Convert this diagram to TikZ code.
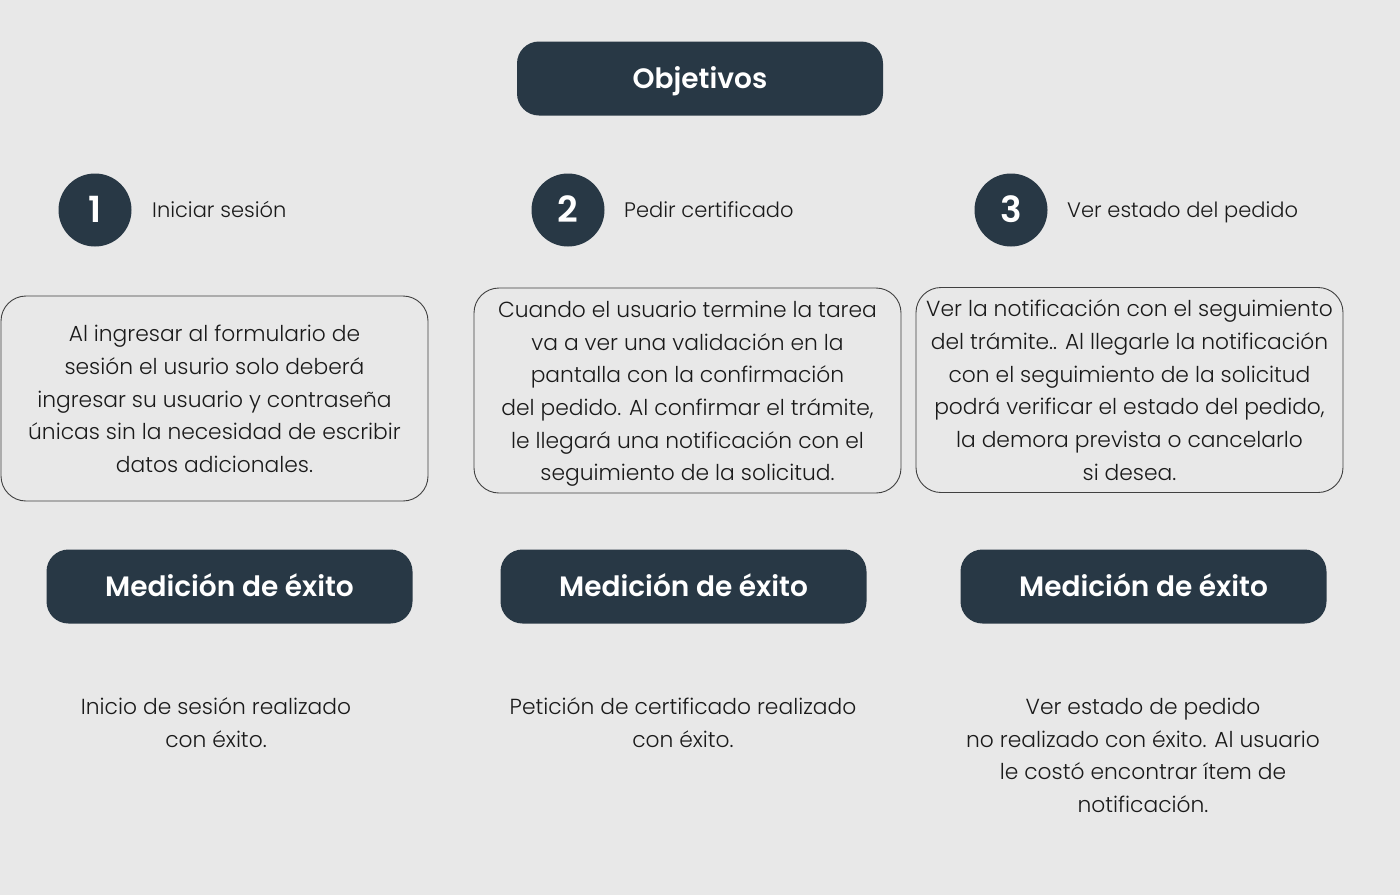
\documentclass[tikz,border=0pt]{standalone}
\usepackage{fontspec}
\setmainfont{Poppins}[UprightFont=* Light, BoldFont=* SemiBold]
\definecolor{bg}{HTML}{E8E8E8}
\definecolor{navy}{HTML}{283845}
\definecolor{ink}{HTML}{1A1A1A}
\definecolor{edge}{HTML}{404040}
\newcommand\tstrut{\rule{0pt}{27pt}}
\tikzset{
  darkbox/.style={fill=navy, rounded corners=22pt, minimum width=366pt, minimum height=74pt, text=white, inner sep=0pt, text height=19.6pt, text depth=0pt},
  numcirc/.style={circle, fill=navy, minimum size=73pt, inner sep=0pt, text=white, font=\fontsize{36}{36}\selectfont\bfseries, text height=25pt, text depth=0pt},
  steplabel/.style={anchor=base west, text=ink, font=\fontsize{21}{26}\selectfont, inner sep=0pt},
  outlinebox/.style={draw=edge, line width=0.9pt, rounded corners=25pt, minimum width=427pt, minimum height=205pt, text=ink, align=center, inner sep=0pt, font=\fontsize{21.8}{32.7}\selectfont},
  plaintext/.style={text=ink, align=center, inner sep=0pt, font=\fontsize{21.8}{32.7}\selectfont}
}
\begin{document}
\begin{tikzpicture}[x=1pt, y=-1pt]
\fill[bg] (0,0) rectangle (1400,895);
\useasboundingbox (0,0) rectangle (1400,895);
\node[darkbox, font=\fontsize{28}{28}\selectfont\bfseries] (obj) at (700,78.5) {Objetivos};

\node[numcirc] (c1) at (95,210) {1};
\node[numcirc] (c2) at (568,210) {2};
\node[numcirc] (c3) at (1011,210) {3};
\node[steplabel] (l1) at (152,217) {Iniciar sesión};
\node[steplabel] (l2) at (624,217) {Pedir certificado};
\node[steplabel] (l3) at (1067,217) {Ver estado del pedido};

\node[outlinebox] (b1) at (214.5,398.5) {\tstrut Al ingresar al formulario de\\sesión el usurio solo deberá\\ingresar su usuario y contraseña\\únicas sin la necesidad de escribir\\datos adicionales.\strut};
\node[outlinebox] (b2) at (687.5,390.5) {\tstrut Cuando el usuario termine la tarea\\va a ver una validación en la\\pantalla con la confirmación\\del pedido. Al confirmar el trámite,\\le llegará una notificación con el\\seguimiento de la solicitud.\strut};
\node[outlinebox] (b3) at (1129.5,390) {\tstrut Ver la notificación con el seguimiento\\del trámite.. Al llegarle la notificación\\con el seguimiento de la solicitud\\podrá verificar el estado del pedido,\\la demora prevista o cancelarlo\\si desea.\strut};

\node[darkbox, font=\fontsize{28}{28}\selectfont\bfseries] (m1) at (229.5,586.5) {Medición de éxito};
\node[darkbox, font=\fontsize{28}{28}\selectfont\bfseries] (m2) at (683.5,586.5) {Medición de éxito};
\node[darkbox, font=\fontsize{28}{28}\selectfont\bfseries] (m3) at (1143.5,586.5) {Medición de éxito};

\node[plaintext] (t1) at (216,724.5) {\strut Inicio de sesión realizado\\con éxito.\strut};
\node[plaintext] (t2) at (683,724.5) {\strut Petición de certificado realizado\\con éxito.\strut};
\node[plaintext] (t3) at (1143,757) {\strut Ver estado de pedido\\no realizado con éxito. Al usuario\\le costó encontrar ítem de\\notificación.\strut};
\end{tikzpicture}
\end{document}
